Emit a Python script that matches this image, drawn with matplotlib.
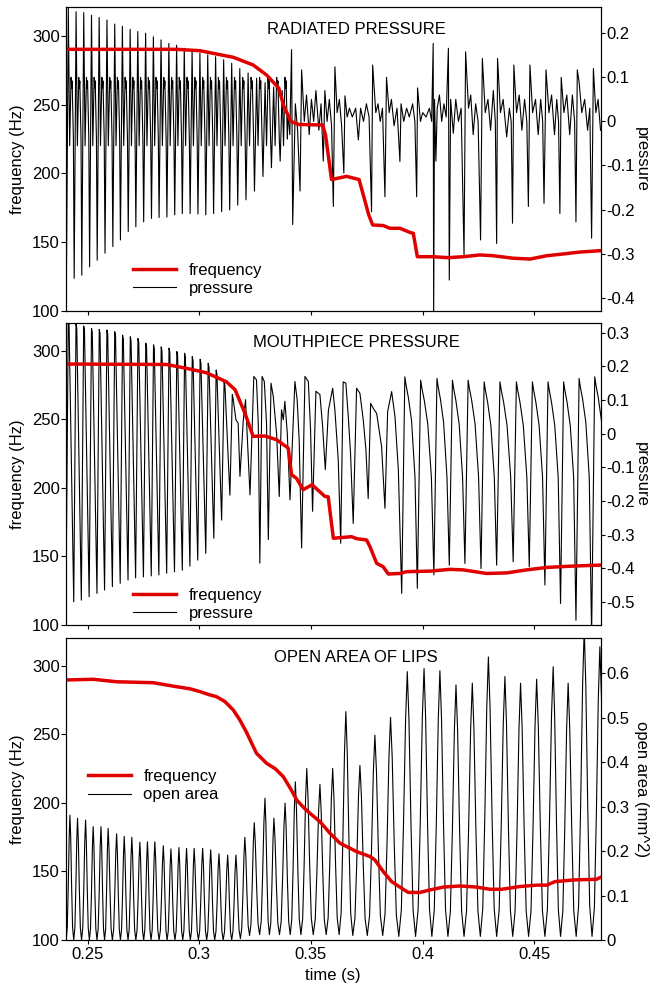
import matplotlib
matplotlib.use('Agg')
import matplotlib.pyplot as plt
from matplotlib.lines import Line2D

plt.rcParams['font.family'] = ['Liberation Sans', 'DejaVu Sans']
plt.rcParams['axes.unicode_minus'] = False
FS = 12
RED = '#e00000'

# ---------------- data: panel 1 (radiated pressure) ----------------
rad_cyc_t = [0.2405, 0.2440, 0.2474, 0.2509, 0.2543, 0.2578, 0.2613, 0.2647, 0.2682, 0.2716,
             0.2751, 0.2786, 0.2820, 0.2855, 0.2890, 0.2924, 0.2959, 0.2994, 0.3029, 0.3064,
             0.3100, 0.3136, 0.3172, 0.3209, 0.3247, 0.3285, 0.3323, 0.3362]
rad_cyc_hi = [0.257, 0.249, 0.247, 0.241, 0.236, 0.230, 0.221, 0.216, 0.209, 0.204,
              0.200, 0.192, 0.185, 0.177, 0.173, 0.166, 0.162, 0.155, 0.151, 0.147,
              0.140, 0.132, 0.120, 0.110, 0.098, 0.088, 0.078, 0.070]
rad_cyc_lo = [-0.375, -0.356, -0.349, -0.330, -0.315, -0.299, -0.284, -0.269, -0.250, -0.239,
              -0.228, -0.220, -0.218, -0.217, -0.212, -0.209, -0.209, -0.210, -0.212, -0.209,
              -0.205, -0.201, -0.190, -0.178, -0.158, -0.125, -0.105, -0.090]
# in-cycle shape: (phase, 'top' or absolute value)
rad_shape = [(0.25, 'top'), (0.42, -0.055), (0.60, 0.100), (0.68, 0.075), (0.74, 0.092), (0.90, -0.040)]

rad_irr_t = [0.3395, 0.3405, 0.3413, 0.3418, 0.3430, 0.3440, 0.3451, 0.3458, 0.3470, 0.3480,
             0.3492, 0.3502, 0.3512, 0.3522, 0.3535, 0.3545, 0.3555, 0.3562, 0.3572, 0.3582,
             0.3592, 0.3600, 0.3607, 0.3617, 0.3627, 0.3637, 0.3647, 0.3652, 0.3662, 0.3672,
             0.3685, 0.3700, 0.3712, 0.3722, 0.3735, 0.3748, 0.3760, 0.3771, 0.3776, 0.3790,
             0.3800, 0.3810, 0.3820, 0.3831, 0.3838, 0.3850, 0.3860, 0.3872, 0.3885, 0.3898,
             0.3903, 0.3915, 0.3928, 0.3940, 0.3955, 0.3965, 0.3973, 0.3977, 0.3990, 0.4000,
             0.4015, 0.4030, 0.4040, 0.4047, 0.4049, 0.4053, 0.4059, 0.4065, 0.4075, 0.4085,
             0.4095, 0.4105, 0.4115, 0.4119, 0.4125, 0.4137, 0.4148, 0.4160, 0.4172, 0.4185,
             0.4192, 0.4205, 0.4215, 0.4226, 0.4237, 0.4248, 0.4259, 0.4267, 0.4280, 0.4292,
             0.4304, 0.4316, 0.4325, 0.4331, 0.4335, 0.4348, 0.4360, 0.4376, 0.4388, 0.4396,
             0.4402, 0.4408, 0.4420, 0.4432, 0.4444, 0.4456, 0.4466, 0.4473, 0.4480, 0.4492,
             0.4505, 0.4517, 0.4528, 0.4537, 0.4543, 0.4552, 0.4565, 0.4577, 0.4590, 0.4600,
             0.4608, 0.4614, 0.4620, 0.4632, 0.4645, 0.4658, 0.4670, 0.4680, 0.4686, 0.4692,
             0.4700, 0.4712, 0.4725, 0.4738, 0.4748, 0.4756, 0.4764, 0.4775, 0.4785, 0.4796]
rad_irr_p = [0.020, -0.030, 0.163, -0.234, 0.040, -0.020, -0.158, 0.117, 0.000, 0.060,
             -0.030, 0.050, 0.000, 0.070, -0.020, 0.040, -0.090, 0.070, 0.000, 0.050,
             -0.010, -0.193, 0.124, 0.020, 0.050, -0.010, -0.117, 0.058, 0.010, 0.030,
             0.010, 0.030, -0.042, 0.030, 0.000, 0.040, 0.010, -0.205, 0.128, 0.020,
             0.040, 0.000, 0.030, -0.171, 0.100, 0.020, 0.050, -0.010, 0.030, -0.091,
             0.040, 0.000, 0.030, 0.010, 0.040, 0.000, -0.171, 0.076, 0.000, 0.020,
             0.010, 0.030, 0.000, 0.177, -0.450, 0.050, -0.090, 0.030, 0.060, 0.000,
             0.040, 0.010, 0.166, -0.360, 0.050, -0.027, 0.050, 0.000, 0.030, -0.303,
             0.158, 0.030, 0.060, -0.030, 0.040, 0.000, -0.269, 0.143, 0.020, 0.050,
             -0.020, 0.070, 0.000, -0.277, 0.143, 0.020, 0.050, -0.035, 0.030, 0.000,
             -0.231, 0.128, 0.020, 0.060, -0.020, 0.050, 0.000, -0.193, 0.128, 0.020,
             0.050, -0.030, 0.050, 0.000, -0.186, 0.117, 0.020, 0.060, -0.030, 0.050,
             0.000, -0.209, 0.100, 0.020, 0.060, -0.030, 0.060, 0.000, -0.228, 0.117,
             0.090, 0.020, 0.050, -0.020, 0.030, -0.265, 0.120, 0.020, 0.050, -0.020]

rad_f_t = [0.2400, 0.2898, 0.3002, 0.3152, 0.3241, 0.3301, 0.3356, 0.3378, 0.3410, 0.3445,
           0.3552, 0.3565, 0.3592, 0.3659, 0.3715, 0.3738, 0.3758, 0.3776, 0.3823, 0.3853,
           0.3898, 0.3943, 0.3958, 0.3976, 0.4047, 0.4114, 0.4182, 0.4256, 0.4316, 0.4405,
           0.4480, 0.4555, 0.4629, 0.4704, 0.4796]
rad_f_hz = [290.3, 290.3, 289.3, 284.5, 278.9, 271.6, 262.0, 249.0, 237.8, 235.6,
            235.2, 228.0, 195.5, 197.8, 195.5, 182.0, 170.0, 162.4, 162.0, 160.0,
            160.0, 157.0, 156.3, 139.3, 139.3, 138.6, 139.3, 140.6, 140.0, 138.2,
            137.6, 140.0, 141.3, 142.7, 143.7]

# ---------------- data: panel 2 (mouthpiece pressure) ----------------
mp_cyc_t = [0.2403, 0.2438, 0.2472, 0.2507, 0.2542, 0.2576, 0.2611, 0.2646, 0.2681, 0.2715,
            0.2750, 0.2785, 0.2819, 0.2854, 0.2889, 0.2924, 0.2958, 0.2993, 0.3029, 0.3065,
            0.3100, 0.3137]
mp_cyc_lo = [-0.515, -0.500, -0.495, -0.485, -0.475, -0.465, -0.455, -0.445, -0.435, -0.429,
             -0.426, -0.423, -0.420, -0.415, -0.411, -0.406, -0.394, -0.376, -0.356, -0.311,
             -0.257, -0.183]
mp_cyc_hi = [0.340, 0.326, 0.320, 0.313, 0.310, 0.308, 0.303, 0.293, 0.288, 0.283,
             0.269, 0.264, 0.258, 0.254, 0.244, 0.239, 0.229, 0.221, 0.209, 0.189,
             0.154, 0.116]
mp_shape = [(0.30, 'top'), (0.40, ('top', -0.012))]

mp_mid_t = [0.3164, 0.3174, 0.3182, 0.3197, 0.3207, 0.3227, 0.3244, 0.3256, 0.3264, 0.3271,
            0.3281, 0.3291, 0.3301, 0.3309, 0.3321, 0.3331, 0.3346, 0.3358, 0.3368, 0.3376,
            0.3383, 0.3394, 0.3406, 0.3428, 0.3438, 0.3447, 0.3458, 0.3473, 0.3488, 0.3498,
            0.3507, 0.3522, 0.3540, 0.3552, 0.3564, 0.3578, 0.3597, 0.3607, 0.3622, 0.3633,
            0.3644, 0.3656, 0.3667, 0.3677, 0.3689, 0.3704, 0.3719, 0.3734, 0.3746, 0.3756,
            0.3767, 0.3779, 0.3794, 0.3816, 0.3831, 0.3843, 0.3861, 0.3876, 0.3891]
mp_mid_p = [0.041, 0.031, -0.127, 0.041, 0.101, -0.182, 0.170, 0.160, 0.030, -0.385,
            0.170, 0.155, 0.030, -0.315, 0.150, 0.111, 0.000, -0.187, 0.071, 0.041,
            0.096, 0.000, -0.197, 0.155, 0.101, -0.018, -0.340, 0.170, 0.155, 0.012,
            -0.231, 0.126, 0.116, 0.021, -0.107, 0.070, 0.135, 0.070, -0.079, -0.326,
            0.154, 0.150, 0.050, -0.059, -0.267, 0.135, 0.120, 0.040, -0.049, -0.193,
            0.090, 0.075, 0.060, -0.039, -0.222, 0.065, 0.125, 0.050, -0.108]

mp_late_t = [0.3906, 0.3976, 0.4050, 0.4119, 0.4189, 0.4261, 0.4331, 0.4405, 0.4477, 0.4547,
             0.4617, 0.4686, 0.4756]
mp_late_lo = [-0.475, -0.460, -0.420, -0.391, -0.386, -0.401, -0.391, -0.381, -0.396, -0.450,
              -0.505, -0.555, -0.600]
mp_late_hi = [0.169, 0.159, 0.164, 0.159, 0.159, 0.154, 0.154, 0.154, 0.154, 0.154,
              0.154, 0.164, 0.169]
mp_late_shape = [(0.20, 'top'), (0.28, ('top', -0.025)), (0.42, ('top', -0.060)),
                 (0.63, ('top', -0.130)), (0.85, -0.130)]

mp_f_t = [0.2400, 0.2852, 0.2942, 0.3031, 0.3121, 0.3160, 0.3204, 0.3241, 0.3294, 0.3346,
          0.3398, 0.3413, 0.3435, 0.3465, 0.3505, 0.3562, 0.3577, 0.3600, 0.3682, 0.3704,
          0.3749, 0.3764, 0.3794, 0.3823, 0.3846, 0.3898, 0.3928, 0.4032, 0.4122, 0.4182,
          0.4286, 0.4376, 0.4465, 0.4555, 0.4674, 0.4796]
mp_f_hz = [290.3, 290.0, 287.2, 284.0, 277.4, 271.6, 254.6, 237.6, 237.8, 235.1,
           229.0, 209.6, 207.0, 198.7, 202.3, 193.8, 193.5, 163.3, 164.4, 163.0,
           162.0, 157.1, 145.0, 142.5, 137.2, 137.6, 138.9, 139.3, 140.6, 140.2,
           137.6, 138.0, 140.2, 142.0, 143.0, 143.7]

# ---------------- data: panel 3 (open area of lips) ----------------
oa_peak_t = [0.2421, 0.2455, 0.2491, 0.2525, 0.2560, 0.2592, 0.2630, 0.2664, 0.2698, 0.2734,
             0.2768, 0.2801, 0.2839, 0.2873, 0.2909, 0.2943, 0.2977, 0.3015, 0.3051, 0.3088,
             0.3127, 0.3164, 0.3204, 0.3246, 0.3294, 0.3334, 0.3384, 0.3430, 0.3481, 0.3540,
             0.3597, 0.3656, 0.3719, 0.3786, 0.3856, 0.3931, 0.4006, 0.4077, 0.4149, 0.4222,
             0.4294, 0.4368, 0.4438, 0.4510, 0.4584, 0.4651, 0.4723, 0.4793]
oa_peak_a = [0.281, 0.274, 0.270, 0.255, 0.255, 0.251, 0.239, 0.233, 0.231, 0.220,
             0.221, 0.221, 0.212, 0.205, 0.208, 0.206, 0.206, 0.206, 0.203, 0.194,
             0.191, 0.191, 0.231, 0.264, 0.319, 0.274, 0.308, 0.356, 0.386, 0.350,
             0.386, 0.514, 0.393, 0.461, 0.501, 0.604, 0.611, 0.606, 0.574, 0.578,
             0.637, 0.593, 0.578, 0.587, 0.615, 0.578, 0.700, 0.660]
oa_trough_t = [0.2404, 0.2438, 0.2473, 0.2508, 0.2542, 0.2576, 0.2611, 0.2647, 0.2681, 0.2716,
               0.2751, 0.2784, 0.2820, 0.2856, 0.2891, 0.2926, 0.2960, 0.2996, 0.3033, 0.3069,
               0.3107, 0.3145, 0.3184, 0.3225, 0.3270, 0.3314, 0.3359, 0.3407, 0.3455, 0.3510,
               0.3568, 0.3626, 0.3687, 0.3752, 0.3821, 0.3893, 0.3968, 0.4041, 0.4113, 0.4185,
               0.4258, 0.4331, 0.4403, 0.4474, 0.4547, 0.4617, 0.4687, 0.4758, 0.4830]
oa_trough_a = [0.000, 0.000, 0.000, 0.000, 0.000, 0.000, 0.000, 0.000, 0.000, 0.000,
               0.000, 0.000, 0.000, 0.000, 0.000, 0.000, 0.000, 0.000, 0.000, 0.000,
               0.000, 0.000, 0.003, 0.010, 0.012, 0.012, 0.012, 0.012, 0.012, 0.012,
               0.012, 0.012, 0.010, 0.010, 0.010, 0.008, 0.008, 0.008, 0.008, 0.008,
               0.008, 0.008, 0.008, 0.008, 0.008, 0.008, 0.008, 0.008, 0.008]
oa_hump_tf = [0.30, 0.55, 0.80]     # time fractions trough->peak
oa_hump_vf = [0.10, 0.42, 0.82]     # value fractions trough->peak

oa_f_t = [0.2400, 0.2525, 0.2630, 0.2794, 0.2898, 0.2960, 0.3003, 0.3045, 0.3077, 0.3115,
          0.3152, 0.3180, 0.3210, 0.3256, 0.3301, 0.3340, 0.3376, 0.3410, 0.3436, 0.3465,
          0.3495, 0.3540, 0.3585, 0.3630, 0.3674, 0.3704, 0.3764, 0.3786, 0.3823, 0.3861,
          0.3898, 0.3935, 0.3988, 0.4032, 0.4092, 0.4167, 0.4241, 0.4301, 0.4353, 0.4435,
          0.4510, 0.4555, 0.4592, 0.4674, 0.4778, 0.4796]
oa_f_hz = [289.8, 290.3, 288.5, 287.8, 284.9, 283.3, 281.3, 279.0, 277.6, 274.0,
           267.9, 261.0, 252.0, 236.3, 229.0, 225.0, 219.2, 210.0, 202.2, 197.0,
           192.5, 186.4, 177.9, 170.6, 167.0, 164.5, 160.9, 158.4, 150.0, 142.6,
           138.6, 134.7, 134.7, 136.5, 138.6, 139.4, 138.6, 137.0, 137.0, 139.0,
           140.0, 140.0, 142.6, 143.8, 144.3, 145.7]

x_ticks = [0.25, 0.30, 0.35, 0.40, 0.45]
x_ticklabels = ['0.25', '0.3', '0.35', '0.4', '0.45']
f_ticks = [100, 150, 200, 250, 300]
p1_ticks = [-0.4, -0.3, -0.2, -0.1, 0.0, 0.1, 0.2]
p1_labels = ['-0.4', '-0.3', '-0.2', '-0.1', '0', '0.1', '0.2']
p2_ticks = [-0.5, -0.4, -0.3, -0.2, -0.1, 0.0, 0.1, 0.2, 0.3]
p2_labels = ['-0.5', '-0.4', '-0.3', '-0.2', '-0.1', '0', '0.1', '0.2', '0.3']
a_ticks = [0.0, 0.1, 0.2, 0.3, 0.4, 0.5, 0.6]
a_labels = ['0', '0.1', '0.2', '0.3', '0.4', '0.5', '0.6']


def cycles_to_line(t0s, lo, hi, shape, last_T):
    ts, vs = [], []
    for i, t in enumerate(t0s):
        T = (t0s[i + 1] - t) if i + 1 < len(t0s) else last_T
        ts.append(t)
        vs.append(lo[i])
        for ph, spec in shape:
            ts.append(t + ph * T)
            if spec == 'top':
                vs.append(hi[i])
            elif isinstance(spec, tuple):
                vs.append(hi[i] + spec[1])
            else:
                vs.append(spec)
    return ts, vs


def humps_to_line(tr_t, tr_a, pk_t, pk_a):
    ts, vs = [], []
    for i in range(len(pk_t)):
        ta, va = tr_t[i], tr_a[i]
        tp, vp = pk_t[i], pk_a[i]
        tb, vb = tr_t[i + 1], tr_a[i + 1]
        ts.append(ta); vs.append(va)
        for f, g in zip(oa_hump_tf, oa_hump_vf):
            ts.append(ta + f * (tp - ta)); vs.append(va + g * (vp - va))
        ts.append(tp); vs.append(vp)
        for f, g in zip(reversed(oa_hump_tf), reversed(oa_hump_vf)):
            ts.append(tb - f * (tb - tp)); vs.append(vb + g * (vp - vb))
    ts.append(tr_t[-1]); vs.append(tr_a[-1])
    return ts, vs


t1a, p1a = cycles_to_line(rad_cyc_t, rad_cyc_lo, rad_cyc_hi, rad_shape, 0.0036)
rad_t = t1a + rad_irr_t
rad_p = p1a + rad_irr_p

t2a, p2a = cycles_to_line(mp_cyc_t, mp_cyc_lo, mp_cyc_hi, mp_shape, 0.0036)
t2c, p2c = cycles_to_line(mp_late_t, mp_late_lo, mp_late_hi, mp_late_shape, 0.0070)
mp_t = t2a + mp_mid_t + t2c
mp_p = p2a + mp_mid_p + p2c

oa_t, oa_a = humps_to_line(oa_trough_t, oa_trough_a, oa_peak_t, oa_peak_a)

fig = plt.figure(figsize=(6.53, 9.86), dpi=100)
L, W = 0.1006, 0.8194
boxes = [(0.6849, 0.3077), (0.3661, 0.3060), (0.0467, 0.3059)]
XLIM = (0.2402, 0.4797)

panels = [
    dict(title='RADIATED PRESSURE', ft=rad_f_t, fhz=rad_f_hz, st=rad_t, sv=rad_p,
         ftop=320.9, rlim=(-0.4295, 0.259), rt=p1_ticks, rl=p1_labels, rlab='pressure',
         slab='pressure', leg=(0.126, 0.103), ty=0.928),
    dict(title='MOUTHPIECE PRESSURE', ft=mp_f_t, fhz=mp_f_hz, st=mp_t, sv=mp_p,
         ftop=320.0, rlim=(-0.569, 0.328), rt=p2_ticks, rl=p2_labels, rlab='pressure',
         slab='pressure', leg=(0.126, 0.068), ty=0.935),
    dict(title='OPEN AREA OF LIPS', ft=oa_f_t, fhz=oa_f_hz, st=oa_t, sv=oa_a,
         ftop=320.2, rlim=(0.0, 0.679), rt=a_ticks, rl=a_labels, rlab='open area (mm^2)',
         slab='open area', leg=(0.042, 0.511), ty=0.935),
]

for k, (pn, (b, h)) in enumerate(zip(panels, boxes)):
    ax = fig.add_axes([L, b, W, h])
    ax2 = ax.twinx()
    ax.set_zorder(ax2.get_zorder() + 1)
    ax.patch.set_visible(False)

    ax2.plot(pn['st'], pn['sv'], color='black', lw=0.8)
    ax.plot(pn['ft'], pn['fhz'], color=RED, lw=2.5)

    ax.set_xlim(*XLIM)
    ax.set_ylim(100, pn['ftop'])
    ax.set_yticks(f_ticks)
    ax.set_yticklabels([str(v) for v in f_ticks])
    ax.set_xticks(x_ticks)
    if k == 2:
        ax.set_xticklabels(x_ticklabels)
        ax.set_xlabel('time (s)', fontsize=FS)
        ax.xaxis.set_label_coords(0.5, -0.093)
    else:
        ax.set_xticklabels([])
    ax.tick_params(axis='y', direction='out', length=3.3, pad=1.0, labelsize=FS)
    ax.tick_params(axis='x', direction='out', length=3.0, pad=2.0, labelsize=FS)
    ax.set_ylabel('frequency (Hz)', fontsize=FS)
    ax.yaxis.set_label_coords(-0.076, 0.5)

    ax2.set_ylim(*pn['rlim'])
    ax2.set_yticks(pn['rt'])
    ax2.set_yticklabels(pn['rl'])
    ax2.tick_params(axis='y', direction='out', length=2.9, pad=1.0, labelsize=FS)
    ax2.set_ylabel(pn['rlab'], fontsize=FS, rotation=270, va='bottom', ha='center')
    ax2.yaxis.set_label_coords(1.062, 0.5)

    for a in (ax, ax2):
        for s in a.spines.values():
            s.set_linewidth(0.8)

    ax.text(0.543, pn['ty'], pn['title'], transform=ax.transAxes,
            ha='center', va='center', fontsize=FS)

    handles = [Line2D([], [], color=RED, lw=2.5), Line2D([], [], color='black', lw=0.8)]
    ax.legend(handles, ['frequency', pn['slab']], loc='center left',
              bbox_to_anchor=pn['leg'], frameon=False, fontsize=FS,
              handlelength=2.6, handletextpad=0.72, labelspacing=0.2,
              borderpad=0, borderaxespad=0)

fig.savefig('out.png', dpi=100)
